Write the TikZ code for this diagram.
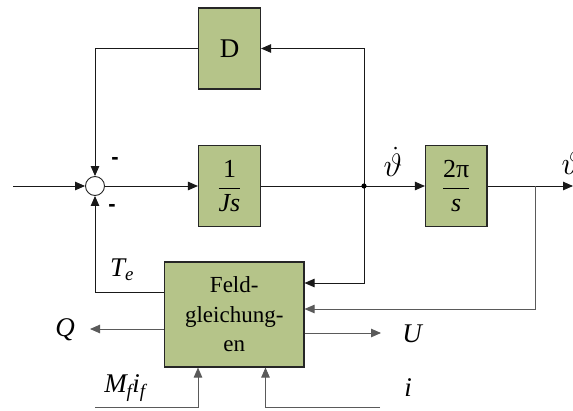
\documentclass[tikz,border=0pt]{standalone}
\usepackage{amsmath}
\usepackage{graphicx}
\usepackage{fontspec}
\setmainfont{Liberation Serif}
\newfontfamily\lsans{Liberation Sans}
\usetikzlibrary{arrows.meta}
\definecolor{boxgreen}{RGB}{181,196,137}
\definecolor{linegray}{RGB}{90,90,90}
\tikzset{
  blk/.style={draw=black!85, fill=boxgreen, line width=1.1pt, inner sep=0pt},
  conn/.style={line width=0.9pt, draw=black!90},
  gconn/.style={line width=0.9pt, draw=linegray},
  arr/.style={-{Triangle[length=10pt,width=8.5pt]}},
  lbl/.style={inner sep=0pt, font=\fontsize{27}{30}\selectfont\itshape},
  mns/.style={inner sep=0pt, font=\lsans\bfseries\fontsize{22}{22}\selectfont}
}
\begin{document}
\begin{tikzpicture}[x=1pt,y=-1pt]
\useasboundingbox (0,0) rectangle (573,410);
% blocks
\node[blk, minimum width=62pt, minimum height=81pt, font=\fontsize{27}{30}\selectfont] (D) at (229.5,48.5) {D};
\node[blk, minimum width=62pt, minimum height=81pt, font=\fontsize{26}{30}\selectfont] (Js) at (229.5,186) {$\dfrac{\text{1}}{\text{\itshape Js}}$};
\node[blk, minimum width=61.5pt, minimum height=81pt, font=\fontsize{26}{30}\selectfont] (Ps) at (456.25,186) {$\dfrac{\text{2π}}{\text{\itshape s}}$};
\node[blk, minimum width=139.5pt, minimum height=105pt, align=center, font=\fontsize{23}{29.5}\selectfont] (F) at (234.25,314.5) {Feld-\\gleichung-\\en};
\node[draw=black!85, fill=white, line width=0.9pt, circle, minimum size=19pt, inner sep=0pt] (sum) at (95,186) {};
% coordinates
\coordinate (in) at (13,186);
\coordinate (j) at (364,186);
\coordinate (out) at (573,186);
\coordinate (tap) at (535,186);
\coordinate (fb1) at (364,283);
\coordinate (fb2) at (535,309);
\coordinate (te) at (95,292);
\coordinate (qe) at (90,329);
\coordinate (ue) at (381,333);
\coordinate (m0) at (95,407);
\coordinate (m1) at (198,407);
\coordinate (i0) at (380,407);
\coordinate (i1) at (265.5,407);
% connectors
\draw[conn, arr] (in) -- (sum.west);
\draw[conn, arr] (sum.east) -- (Js.west);
\draw[conn] (Js.east) -- (j);
\draw[conn, arr] (j) -- (Ps.west);
\draw[conn, arr] (Ps.east) -- (out);
\draw[conn, arr] (j) |- (D.east);
\draw[conn, arr] (D.west) -| (sum.north);
\draw[conn, arr] (j) |- (F.east |- fb1);
\draw[gconn, arr] (tap) |- (F.east |- fb2);
\draw[conn, arr] (F.west |- te) -| (sum.south);
\draw[gconn, arr] (F.west |- qe) -- (qe);
\draw[gconn, arr] (F.east |- ue) -- (ue);
\draw[gconn, arr] (m0) -| (F.south -| m1);
\draw[gconn, arr] (i0) -| (F.south -| i1);
\fill (j) circle (2.6pt);
% labels
\node[inner sep=0pt, font=\fontsize{24}{30}\selectfont] (ld) at (393,162) {\scalebox{1.3}{$\dot{\vartheta}$}};
\node[inner sep=0pt, font=\fontsize{24}{30}\selectfont] (lt) at (571,163) {\scalebox{1.3}{$\vartheta$}};
\node[lbl] (lte) at (122,270) {T\textsubscript{e}};
\node[lbl] (lq) at (65,330) {Q};
\node[lbl] (lu) at (412,334) {U};
\node[lbl] (lm) at (125,388) {M\textsubscript{f}i\textsubscript{f}};
\node[lbl] (li) at (408,388) {i};
\node[mns] (m1s) at (115,161) {-};
\node[mns] (m2s) at (112,208) {-};
\end{tikzpicture}
\end{document}
